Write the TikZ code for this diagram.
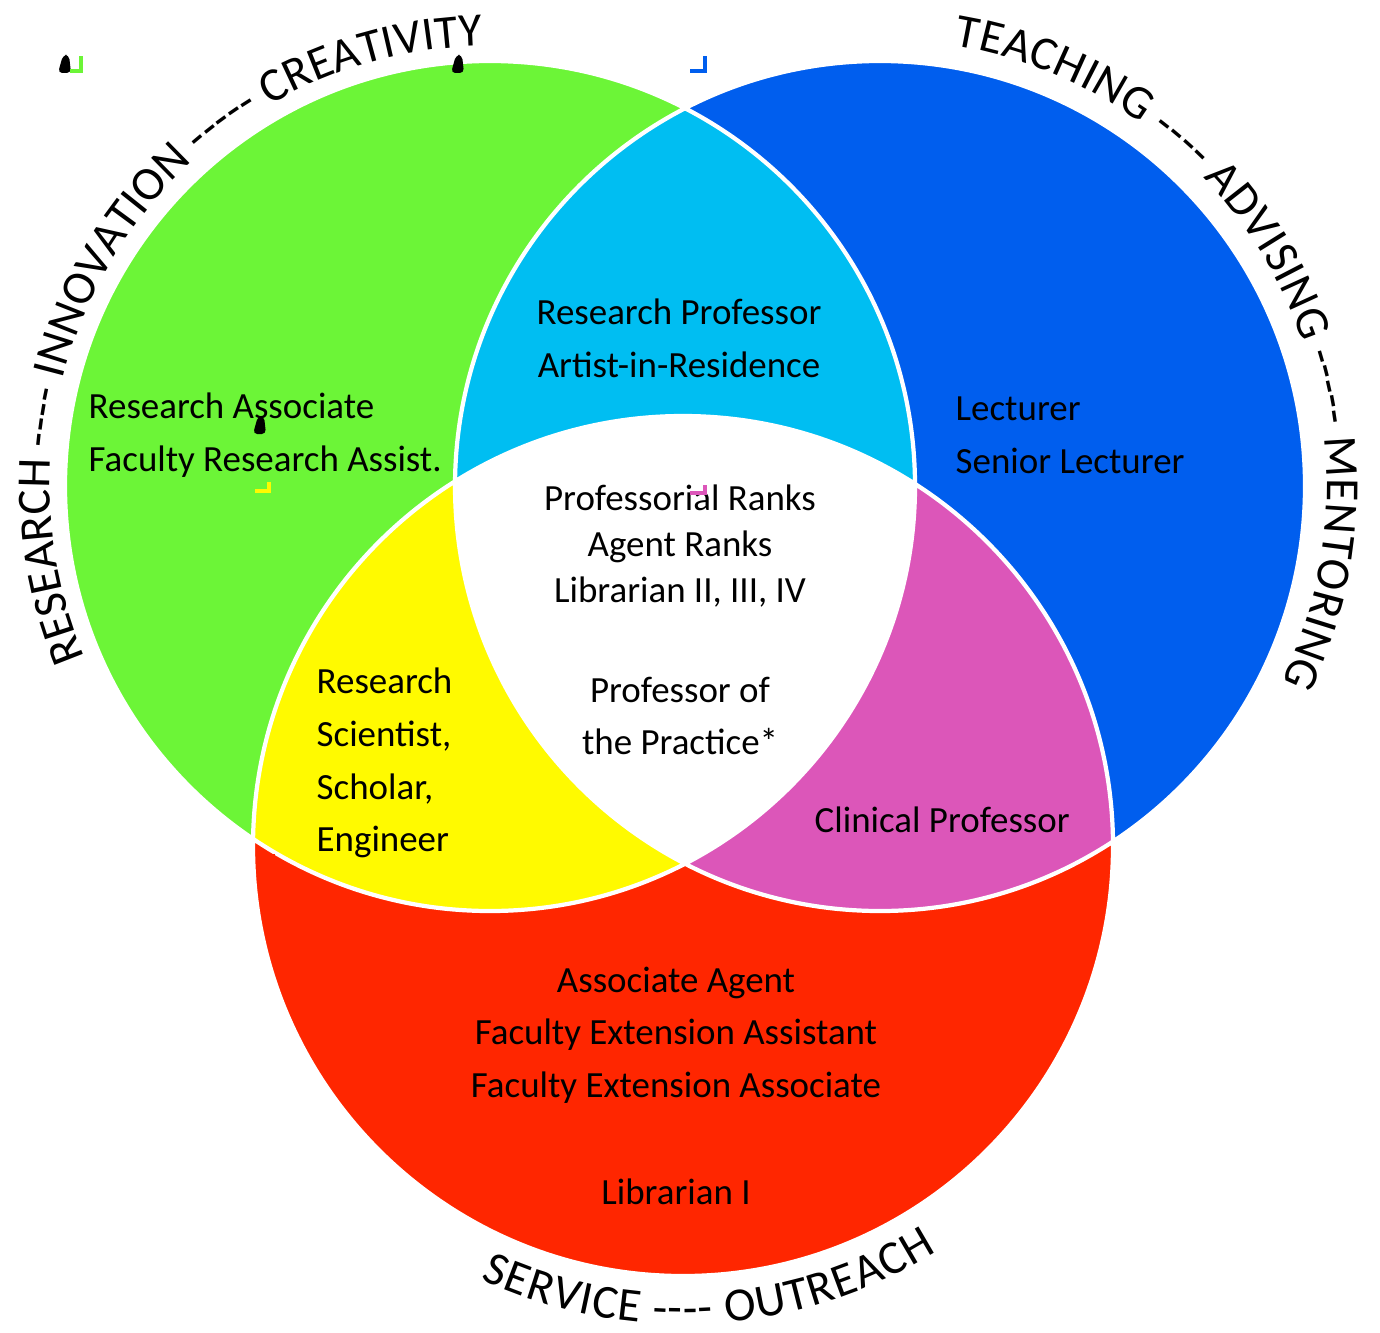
\documentclass[tikz,border=0pt]{standalone}
\usepackage{fontspec}
\setmainfont{Carlito}
\usepackage{tikz}
\usetikzlibrary{decorations.text}
\definecolor{vgreen}{RGB}{108, 245, 55}
\definecolor{vblue}{RGB}{0, 94, 238}
\definecolor{vcyan}{RGB}{0, 190, 242}
\definecolor{vyellow}{RGB}{255, 250, 0}
\definecolor{vpink}{RGB}{220, 86, 185}
\definecolor{vred}{RGB}{255, 38, 0}

\begin{document}
\begin{tikzpicture}[x=0.01cm, y=0.01cm,
  role/.style={font=\fontsize{10.5}{15}\selectfont, inner sep=0pt, align=center},
  rolel/.style={role, align=left, anchor=west},
  arclabel/.style={decorate, decoration={text along path, text align={fit to path},
    text={|\fontsize{13.5}{16}\selectfont|#1}}},
  grip/.pic={\fill[black, rounded corners=1.2pt] (-7,-9) -- (6,-9) -- (4,9) -- (-2,9) -- cycle;},
  tick/.style={line width=1.1pt}
]
\useasboundingbox (0,0) rectangle (1380,1332);
\coordinate (res) at (490,846);
\coordinate (tea) at (880,846);
\coordinate (ser) at (683,486);

% the three circles and their overlaps
\fill[vgreen] (res) circle[radius=425];
\fill[vblue] (tea) circle[radius=425];
\fill[vred] (ser) circle[radius=430];
\begin{scope}
  \clip (res) circle[radius=425];
  \fill[vcyan] (tea) circle[radius=425];
  \fill[vyellow] (ser) circle[radius=430];
\end{scope}
\begin{scope}
  \clip (tea) circle[radius=425];
  \fill[vpink] (ser) circle[radius=430];
  \clip (res) circle[radius=425];
  \fill[white] (ser) circle[radius=430];
\end{scope}
\draw[white, line width=1.2pt] (res) circle[radius=425] (tea) circle[radius=425] (ser) circle[radius=430];

% labels round the rims
\path[arclabel={RESEARCH ---- INNOVATION ----- CREATIVITY}] (res) ++(203:440) arc[start angle=203, end angle=91, radius=440];
\path[arclabel={TEACHING ---- ADVISING ----- MENTORING}] (tea) ++(80.5:447) arc[start angle=80.5, end angle=-26, radius=447];
\path[arclabel={SERVICE ---- OUTREACH}] (ser) ++(245:478) arc[start angle=245, end angle=302, radius=478];

\node[rolel] (assoc) at (88,897) {Research Associate\\Faculty Research Assist.};
\node[role] (resprof) at (679,994) {Research Professor\\Artist-in-Residence};
\node[rolel] (lect) at (955,897) {Lecturer\\Senior Lecturer};
\node[role, font=\fontsize{10.5}{13}\selectfont] (ranks) at (680,786) {Professorial Ranks\\Agent Ranks\\Librarian II, III, IV};
\node[role] (practice) at (680,616) {Professor of\\the Practice*};
\node[rolel] (sci) at (316,569) {Research\\Scientist,\\Scholar,\\Engineer};
\node[rolel] (clin) at (814,512) {Clinical Professor};
\node[role] (agent) at (676,297) {Associate Agent\\Faculty Extension Assistant\\Faculty Extension Associate};
\node[role] (lib) at (676,140) {Librarian I};

% stray handles
\pic at (65,1268) {grip};
\pic at (458,1268) {grip};
\pic at (260,907) {grip};
\draw[tick, vgreen] (70,1261) -- (81,1261) -- (81,1276);
\draw[tick, vblue] (690,1261) -- (705,1261) -- (705,1276);
\draw[tick, vyellow] (255,841) -- (269,841) -- (269,850);
\draw[tick, vpink] (690,839) -- (705,839) -- (705,847);
\draw[tick, vred] (261,466) -- (261,476) -- (273,476) -- (273,470);
\end{tikzpicture}
\end{document}
